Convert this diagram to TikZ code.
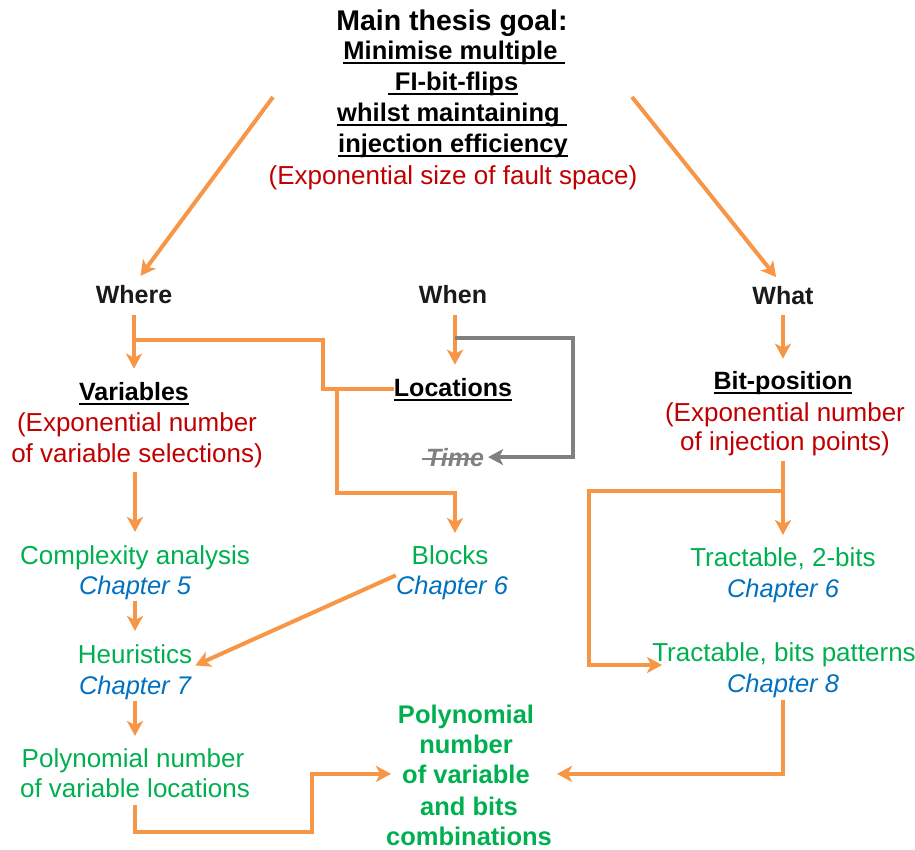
\documentclass[tikz,border=0pt]{standalone}
\usepackage{fontspec}
\setmainfont{Liberation Sans}
\usetikzlibrary{arrows.meta}

\definecolor{accent}{HTML}{F79646}
\definecolor{warn}{HTML}{C00000}
\definecolor{ok}{HTML}{00B050}
\definecolor{chap}{HTML}{0070C0}
\definecolor{mute}{HTML}{808080}
\definecolor{ink}{HTML}{1A1A1A}

% thick underline drawn just under the baseline
\newcommand\ulbar[1]{\setbox0\hbox{#1}\rlap{\rule[-4.8pt]{\wd0}{1.8pt}}\box0}
% strike-through bar across a word
\newcommand\strikebar[1]{\setbox0\hbox{#1}\rlap{\hspace{-4pt}\rule[6pt]{\dimexpr\wd0+2pt\relax}{1.8pt}}\box0}

\begin{document}
\begin{tikzpicture}[x=1pt,y=-1pt,
  lbl/.style={inner sep=0pt, anchor=base},
  reg/.style={lbl, font=\fontsize{26}{30}\selectfont},
  red/.style={reg, text=warn},
  res/.style={reg, text=ok},
  chp/.style={lbl, text=chap, font=\fontsize{25.5}{30}\selectfont\itshape},
  hd/.style={lbl, text=ink, font=\fontsize{25}{30}\selectfont\bfseries},
  sub/.style={lbl, text=black, font=\fontsize{25.5}{30}\selectfont\bfseries},
  fin/.style={lbl, text=ok, font=\fontsize{25.5}{30}\selectfont\bfseries},
  titl/.style={lbl, text=black, font=\fontsize{28.5}{32}\selectfont\bfseries},
  link/.style={draw=accent, line width=4pt},
  arr/.style={link, -{Stealth[length=15pt,width=16pt,inset=4pt]}},
  greyarr/.style={draw=mute, line width=4pt, -{Stealth[length=15pt,width=16pt,inset=4pt]}}
]
\useasboundingbox (0,0) rectangle (915,849);

% ---- goal ----
\node[titl] (goal) at (452,30) {Main thesis goal:};
\node[sub] (g1) at (454,59) {\ulbar{Minimise multiple\ }};
\node[sub] (g2) at (453,90) {\ulbar{\ FI-bit-flips}};
\node[sub] (g3) at (452,121) {\ulbar{whilst maintaining\ }};
\node[sub] (g4) at (453,152) {\ulbar{injection efficiency}};
\node[red] (g5) at (453,184) {(Exponential size of fault space)};

% ---- three questions ----
\node[hd] (where) at (134,303) {Where};
\node[hd] (when) at (453,303) {When};
\node[hd] (what) at (783,304) {What};

\node[hd, text=black] (vars) at (134,400) {\ulbar{Variables}};
\node[red] (v1) at (137,431) {(Exponential number};
\node[red] (v2) at (137,462) {of variable selections)};

\node[hd, text=black] (locs) at (453,396) {\ulbar{Locations}};
\node[lbl, text=mute, font=\fontsize{25}{30}\selectfont\bfseries\itshape] (time) at (455,466) {\strikebar{Time}};

\node[hd, text=black] (bitpos) at (783,389) {\ulbar{Bit-position}};
\node[red] (b1) at (785,421) {(Exponential number};
\node[red] (b2) at (785,450) {of injection points)};

% ---- left column ----
\node[res] (cx) at (135,564) {Complexity analysis};
\node[chp] (ch5) at (135,594) {Chapter 5};
\node[res] (heur) at (135,663) {Heuristics};
\node[chp] (ch7) at (135,694) {Chapter 7};
\node[res] (pl1) at (133,767) {Polynomial number};
\node[res] (pl2) at (135,797) {of variable locations};

% ---- middle column ----
\node[res] (blk) at (450,564) {Blocks};
\node[chp] (ch6a) at (452,594) {Chapter 6};

% ---- right column ----
\node[res] (tr1) at (783,566) {Tractable, 2-bits};
\node[chp] (ch6b) at (783,597) {Chapter 6};
\node[res] (tr2) at (784,661) {Tractable, bits patterns};
\node[chp] (ch8) at (783,692) {Chapter 8};

% ---- outcome ----
\node[fin] (f1) at (466,723) {Polynomial};
\node[fin] (f2) at (466,753) {number};
\node[fin] (f3) at (466,783) {of variable};
\node[fin] (f4) at (469,815) {and bits};
\node[fin] (f5) at (469,845) {combinations};

% ---- connectors ----
\coordinate (tl) at (273,97);
\coordinate (tr) at (632,97);
\draw[arr, shorten >=11pt] (tl) -- (where.north);
\draw[arr, shorten >=11pt] (tr) -- (what.north);

\draw[arr, shorten <=12pt, shorten >=13pt] (where.south) -- (vars.north);
\coordinate (wb) at ([yshift=-37pt]where.south);
\draw[link] (wb) -- ++(189,0) |- (locs.west);
\draw[arr, shorten >=12pt] (locs.west) -- ++(-57,0) -- ++(0,104) -| ([xshift=5pt]blk.north);

\draw[arr, shorten <=12pt, shorten >=13pt] ([xshift=2pt]when.south) -- ([xshift=2pt]when.south |- locs.north);
\coordinate (wt) at ([xshift=2pt,yshift=-35pt]when.south);
\draw[greyarr, shorten >=4pt] (wt) -- ++(118,0) |- (time.east);

\draw[arr, shorten <=4pt, shorten >=13pt] (cx.north |- v2.south) -- (cx.north);
\draw[arr, shorten <=1pt, shorten >=13pt] (ch5.south) -- (heur.north);
\draw[arr, shorten <=1pt, shorten >=12pt] (ch7.south) -- (ch7.south |- pl1.north);
\draw[arr] (ch6a.north west) -- ([xshift=3pt,yshift=-2pt]heur.south east);
\draw[arr, shorten <=8pt, shorten >=11pt] (pl2.south) -- ++(0,35) -- ++(177,0) |- (f3.west);

\draw[arr, shorten <=11pt, shorten >=12pt] (what.south) -- (bitpos.north);
\draw[arr, shorten <=5pt, shorten >=12pt] (tr1.north |- b2.south) -- (tr1.north);
\coordinate (rb) at (783,491);
\draw[arr] (rb) -- ++(-194,0) |- ([xshift=10pt,yshift=-4pt]tr2.base west);
\draw[arr, shorten <=2pt, shorten >=27pt] (ch8.south) |- (f3.east);
\end{tikzpicture}
\end{document}
